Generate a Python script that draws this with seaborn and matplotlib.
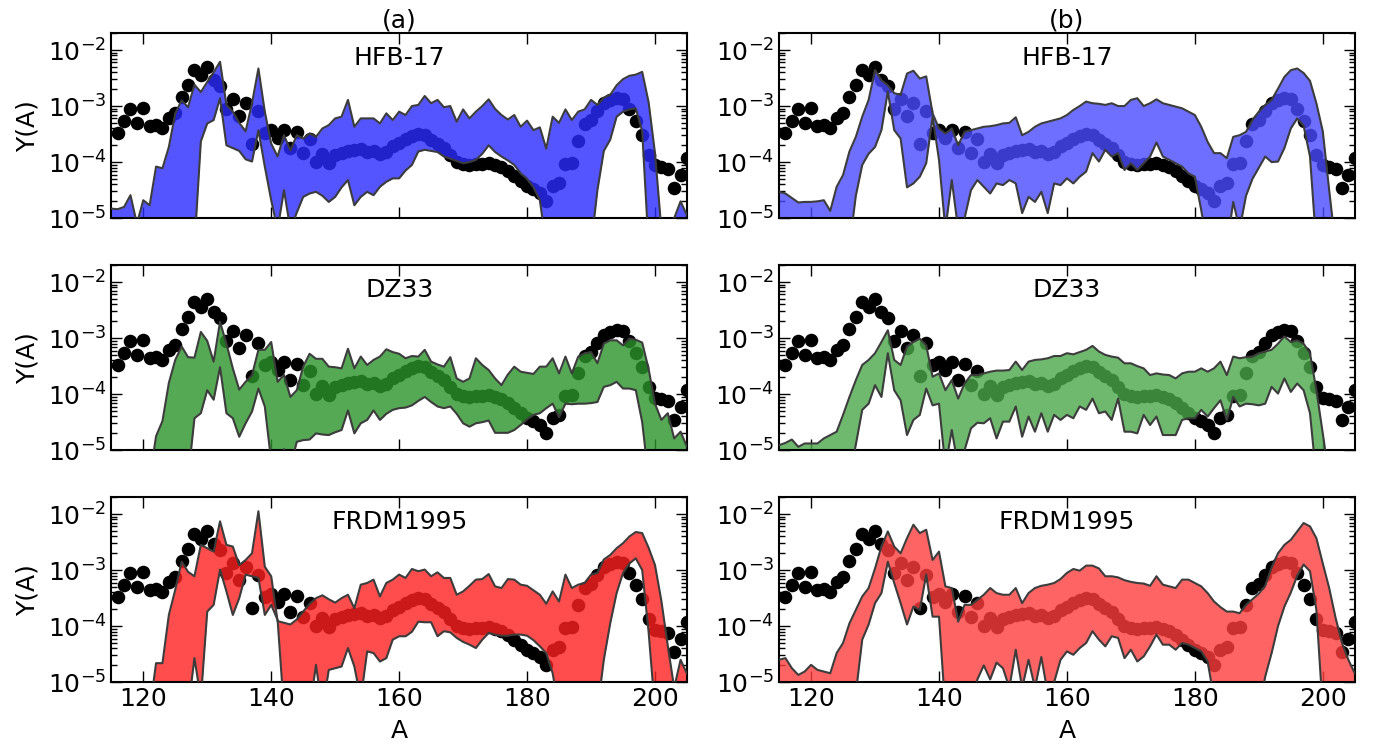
import numpy as np
import seaborn as sns
import matplotlib.pyplot as plt
from matplotlib.ticker import LogLocator, NullFormatter

# mass number grid of the bands and of the solar points
mass = list(range(115, 206))
solar_mass = list(range(116, 206))

# log10 Y(A) of the solar r-process points (black dots)
solar_log = [-3.48, -3.26, -3.05, -3.31, -3.04, -3.36, -3.33, -3.39, -3.22, -3.12,
             -2.84, -2.62, -2.35, -2.44, -2.31, -2.53, -2.64, -3.05, -2.87, -3.17,
             -2.95, -3.68, -3.08, -3.48, -3.42, -3.57, -3.42, -3.74, -3.46, -3.84,
             -3.58, -4.00, -3.86, -4.02, -3.88, -3.83, -3.80, -3.78, -3.76, -3.82,
             -3.80, -3.86, -3.82, -3.72, -3.66, -3.58, -3.53, -3.50, -3.52, -3.60,
             -3.67, -3.75, -3.88, -4.00, -4.04, -4.05, -4.04, -4.03, -4.02, -4.05,
             -4.08, -4.15, -4.25, -4.33, -4.42, -4.48, -4.55, -4.70, -4.42, -4.38,
             -4.04, -4.02, -3.62, -3.32, -3.25, -3.08, -2.95, -2.89, -2.86, -2.88,
             -3.06, -3.27, -3.52, -3.88, -4.06, -4.09, -4.12, -4.46, -4.23, -3.92]

# log10 band limits for A = 115..205 (below -5 = off the axis)
hfb_a_hi = [-4.83, -4.84, -4.80, -4.59, -5.10, -4.68, -4.77, -4.08, -4.11, -3.73,
            -3.13, -2.90, -3.02, -2.62, -2.75, -2.57, -2.40, -2.21, -2.98, -3.10,
            -3.30, -3.45, -2.95, -2.33, -3.10, -3.67, -3.90, -3.52, -3.79, -3.52,
            -3.58, -3.49, -3.55, -3.40, -3.34, -3.22, -3.19, -2.89, -3.37, -3.22,
            -3.22, -3.22, -3.31, -3.13, -3.25, -3.10, -3.16, -3.00, -2.98, -2.82,
            -2.95, -2.89, -3.02, -3.00, -3.28, -3.06, -3.22, -3.10, -3.00, -2.88,
            -3.05, -3.16, -3.24, -3.16, -3.37, -3.26, -3.43, -3.38, -3.76, -3.19,
            -3.30, -3.06, -3.25, -3.10, -3.06, -2.89, -2.98, -2.85, -2.80, -2.63,
            -2.52, -2.46, -2.44, -2.39, -2.93, -3.84, -5.20, -5.20, -5.00, -4.70, -4.95]
hfb_a_lo = [-5.5, -5.5, -5.5, -5.5, -5.5, -5.5, -5.5, -5.5, -5.5, -5.5,
            -5.5, -5.5, -5.5, -5.5, -3.63, -3.31, -3.25, -2.86, -3.70, -3.75,
            -3.80, -3.95, -3.99, -3.43, -4.08, -4.68, -5.20, -4.50, -5.20, -4.90,
            -4.62, -4.56, -4.53, -4.60, -4.71, -4.62, -4.45, -4.32, -4.77, -4.62,
            -4.53, -4.59, -4.44, -4.35, -4.29, -4.29, -4.15, -4.05, -3.81, -3.78,
            -3.80, -3.82, -3.90, -3.94, -3.98, -4.02, -4.00, -3.96, -3.85, -3.70,
            -3.82, -3.90, -3.97, -4.05, -4.20, -4.30, -4.45, -4.68, -5.5, -5.5,
            -5.5, -5.5, -5.5, -5.5, -5.5, -5.5, -4.50, -3.80, -3.60, -3.19,
            -3.10, -3.06, -3.04, -3.45, -5.5, -5.5, -5.5, -5.5, -5.5, -5.5, -5.5]
hfb_b_hi = [-4.53, -4.56, -4.64, -4.72, -4.71, -4.71, -4.70, -4.68, -4.87, -4.44,
            -4.23, -3.81, -3.55, -3.19, -2.89, -2.36, -2.54, -2.63, -2.77, -2.80,
            -2.42, -2.37, -2.51, -2.47, -3.13, -3.40, -3.49, -3.40, -3.70, -3.46,
            -3.43, -3.40, -3.37, -3.36, -3.34, -3.31, -3.30, -3.20, -3.52, -3.46,
            -3.37, -3.31, -3.28, -3.25, -3.22, -3.16, -3.07, -3.00, -2.92, -2.95,
            -2.96, -2.98, -2.95, -3.00, -3.00, -2.89, -2.86, -3.00, -2.95, -2.88,
            -2.95, -2.98, -3.01, -3.04, -3.10, -3.16, -3.37, -3.64, -3.84, -3.84,
            -3.93, -3.55, -3.52, -3.46, -3.25, -3.10, -2.98, -2.89, -2.69, -2.48,
            -2.36, -2.33, -2.41, -2.55, -2.95, -3.45, -4.50, -5.5, -5.5, -5.5, -5.5]
hfb_b_lo = [-5.5, -5.5, -5.5, -5.5, -5.5, -5.5, -5.5, -5.5, -5.5, -5.5,
            -5.5, -5.5, -4.60, -4.05, -3.85, -3.73, -3.43, -2.74, -3.43, -3.58,
            -4.45, -4.38, -4.26, -4.02, -3.19, -3.96, -5.20, -4.32, -5.20, -5.00,
            -4.50, -4.32, -4.44, -4.56, -4.38, -4.41, -4.32, -4.38, -4.91, -4.62,
            -4.71, -4.53, -4.91, -4.38, -4.41, -4.29, -4.38, -4.26, -4.17, -3.84,
            -3.99, -3.78, -3.90, -3.84, -4.14, -4.02, -4.14, -4.02, -3.90, -3.65,
            -3.90, -3.96, -4.02, -4.08, -4.20, -4.26, -4.86, -5.5, -5.5, -5.5,
            -5.5, -4.71, -5.20, -4.60, -4.30, -4.10, -3.90, -4.00, -3.99, -3.75,
            -3.40, -3.22, -3.35, -3.90, -5.5, -5.5, -5.5, -5.5, -5.5, -5.5, -5.5]

dz_a_hi = [-5.5, -5.5, -5.5, -5.5, -5.5, -5.5, -5.5, -4.75, -4.48, -3.80,
           -3.39, -3.15, -3.34, -3.35, -2.89, -3.05, -3.42, -2.71, -3.10, -3.54,
           -3.92, -3.78, -3.66, -3.21, -3.21, -3.07, -3.78, -3.66, -4.05, -3.93,
           -3.51, -3.28, -3.37, -3.37, -3.51, -3.52, -3.54, -3.19, -3.54, -3.33,
           -3.48, -3.39, -3.33, -3.20, -3.25, -3.28, -3.36, -3.32, -3.33, -3.21,
           -3.42, -3.47, -3.51, -3.34, -3.72, -3.78, -3.72, -3.36, -3.48, -3.57,
           -3.72, -3.84, -3.65, -3.51, -3.60, -3.62, -3.64, -3.51, -3.51, -3.36,
           -3.63, -3.33, -3.63, -3.33, -3.27, -3.25, -3.45, -3.10, -3.04, -3.04,
           -3.13, -3.01, -3.03, -3.08, -3.55, -4.17, -4.46, -4.34, -4.79, -4.67, -4.94]
dz_a_lo = [-5.5, -5.5, -5.5, -5.5, -5.5, -5.5, -5.5, -5.5, -5.5, -5.5,
           -5.5, -5.5, -5.5, -4.43, -4.34, -3.93, -4.10, -3.52, -4.34, -4.43,
           -4.76, -4.52, -4.31, -3.90, -4.22, -5.20, -5.50, -4.98, -5.30, -4.85,
           -4.82, -4.81, -4.70, -4.72, -4.73, -4.68, -4.64, -4.29, -4.70, -4.52,
           -4.46, -4.29, -4.46, -4.35, -4.28, -4.25, -4.24, -4.20, -4.12, -4.05,
           -4.14, -4.22, -4.25, -4.22, -4.35, -4.52, -4.58, -4.52, -4.50, -4.47,
           -4.69, -4.69, -4.69, -4.64, -4.55, -4.45, -4.37, -4.34, -4.25, -4.17,
           -4.41, -4.17, -4.18, -4.17, -4.17, -4.16, -4.14, -3.87, -3.84, -3.78,
           -3.90, -3.90, -3.93, -4.50, -5.5, -5.5, -5.5, -5.5, -5.5, -5.5, -5.5]
dz_b_hi = [-4.91, -4.87, -4.81, -4.94, -4.88, -4.88, -4.88, -4.79, -4.73, -4.67,
           -4.37, -4.05, -3.75, -3.48, -3.39, -3.27, -3.07, -2.86, -3.39, -3.48,
           -3.15, -3.07, -3.01, -3.13, -3.69, -3.63, -3.93, -3.75, -4.08, -3.81,
           -3.66, -3.66, -3.63, -3.60, -3.58, -3.58, -3.57, -3.42, -3.57, -3.42,
           -3.39, -3.38, -3.36, -3.32, -3.32, -3.27, -3.29, -3.25, -3.21, -3.14,
           -3.24, -3.30, -3.33, -3.35, -3.45, -3.45, -3.50, -3.54, -3.66, -3.63,
           -3.65, -3.66, -3.72, -3.63, -3.60, -3.60, -3.54, -3.60, -3.54, -3.42,
           -3.66, -3.33, -3.36, -3.34, -3.33, -3.27, -3.24, -3.21, -3.10, -2.97,
           -3.07, -3.04, -3.10, -3.27, -3.93, -4.70, -5.5, -5.5, -5.5, -5.5, -5.5]
dz_b_lo = [-5.5, -5.5, -5.5, -5.5, -5.5, -5.5, -5.5, -5.5, -5.5, -5.5,
           -5.5, -5.5, -4.90, -4.28, -4.17, -3.84, -4.05, -3.27, -3.93, -4.11,
           -4.73, -4.46, -4.37, -3.90, -4.20, -4.17, -5.30, -4.64, -5.30, -5.00,
           -4.61, -4.51, -4.52, -4.43, -4.79, -4.49, -4.49, -4.22, -4.76, -4.40,
           -4.67, -4.34, -4.67, -4.37, -4.46, -4.37, -4.43, -4.22, -4.28, -4.08,
           -4.34, -4.31, -4.46, -4.08, -4.67, -4.67, -4.70, -4.37, -4.55, -4.40,
           -4.73, -4.73, -4.73, -4.46, -4.43, -4.43, -4.28, -4.40, -4.25, -4.11,
           -4.46, -4.05, -4.22, -4.17, -4.18, -4.20, -4.17, -3.87, -3.99, -3.72,
           -3.96, -3.81, -3.93, -4.34, -5.5, -5.5, -5.5, -5.5, -5.5, -5.5, -5.5]

frdm_a_hi = [-5.5, -5.5, -5.5, -5.5, -5.5, -5.5, -5.5, -4.66, -4.66, -3.80,
             -3.35, -2.85, -3.03, -3.11, -2.55, -2.61, -2.67, -2.13, -2.55, -2.58,
             -2.91, -2.82, -2.70, -1.95, -2.94, -3.11, -3.91, -3.94, -3.97, -3.88,
             -3.74, -3.60, -3.50, -3.45, -3.52, -3.58, -3.50, -3.44, -3.68, -3.26,
             -3.23, -3.17, -3.47, -3.23, -3.17, -3.08, -3.14, -2.98, -3.02, -2.99,
             -3.11, -3.04, -3.14, -3.14, -3.44, -3.38, -3.28, -3.17, -3.16, -3.07,
             -3.29, -3.32, -3.16, -3.17, -3.26, -3.28, -3.36, -3.44, -3.60, -3.38,
             -3.56, -3.08, -3.32, -3.26, -3.23, -3.08, -3.05, -2.81, -2.73, -2.61,
             -2.52, -2.40, -2.32, -2.34, -2.60, -2.91, -3.55, -4.35, -5.10, -4.60, -4.85]
frdm_a_lo = [-5.5, -5.5, -5.5, -5.5, -5.5, -5.5, -5.5, -5.5, -5.5, -5.5,
             -5.5, -5.5, -5.5, -4.57, -5.30, -3.74, -3.62, -2.99, -3.38, -3.80,
             -3.50, -3.08, -3.11, -3.14, -3.80, -3.62, -3.89, -5.5, -5.5, -5.5,
             -5.5, -5.5, -4.69, -5.5, -4.78, -4.75, -4.72, -4.39, -4.72, -5.30,
             -4.45, -4.48, -4.63, -4.57, -4.24, -4.18, -4.18, -4.10, -3.92, -3.93,
             -3.93, -4.18, -4.09, -4.11, -4.21, -4.28, -4.33, -4.39, -4.24, -4.12,
             -4.15, -4.17, -4.17, -4.15, -4.15, -4.17, -4.25, -4.36, -4.48, -4.84,
             -5.5, -5.5, -5.5, -5.5, -5.5, -5.5, -5.5, -4.60, -3.95, -3.41,
             -3.05, -2.88, -2.79, -3.00, -4.10, -5.5, -5.5, -5.5, -5.5, -5.5, -5.5]
frdm_b_hi = [-4.60, -4.57, -4.75, -4.87, -4.81, -4.69, -4.78, -4.81, -4.84, -4.48,
             -4.30, -3.95, -3.71, -3.47, -3.32, -2.97, -2.58, -2.31, -2.58, -2.70,
             -2.43, -2.19, -2.34, -2.28, -2.82, -2.67, -3.29, -3.32, -3.92, -3.62,
             -3.62, -3.53, -3.44, -3.32, -3.41, -3.44, -3.44, -3.32, -3.59, -3.41,
             -3.32, -3.28, -3.26, -3.23, -3.16, -3.05, -2.98, -3.01, -2.92, -2.92,
             -2.97, -3.11, -3.11, -3.13, -3.18, -3.21, -3.23, -3.24, -3.28, -3.11,
             -3.26, -3.29, -3.32, -3.17, -3.17, -3.23, -3.29, -3.41, -3.56, -3.66,
             -3.74, -3.74, -3.77, -3.62, -3.52, -3.42, -3.28, -2.95, -2.70, -2.55,
             -2.46, -2.31, -2.16, -2.22, -2.43, -2.88, -3.32, -3.85, -4.30, -4.60, -4.84]
frdm_b_lo = [-5.5, -5.5, -5.5, -5.5, -5.5, -5.5, -5.5, -5.5, -5.5, -5.5,
             -5.5, -5.5, -5.20, -4.24, -3.97, -3.59, -3.41, -2.85, -3.23, -3.59,
             -3.97, -3.65, -3.71, -3.08, -3.83, -3.83, -5.5, -5.5, -5.5, -5.5,
             -5.5, -4.95, -4.70, -4.95, -4.65, -4.75, -5.10, -4.42, -5.10, -4.60,
             -5.10, -4.55, -5.20, -5.00, -4.60, -4.45, -4.51, -4.39, -4.30, -4.09,
             -4.24, -4.36, -4.18, -4.21, -4.57, -4.42, -4.63, -4.54, -4.36, -4.15,
             -4.33, -4.33, -4.42, -4.30, -4.33, -4.39, -4.45, -4.63, -5.30, -5.5,
             -5.5, -5.5, -5.5, -5.5, -5.5, -5.5, -4.90, -4.48, -4.00, -3.65,
             -3.40, -3.10, -2.90, -3.02, -3.71, -5.5, -5.5, -5.5, -5.5, -5.5, -5.5]

model_names = ['HFB-17', 'DZ33', 'FRDM1995']
column_titles = ['(a)', '(b)']
# band colours, column (a) and column (b)
band_colors = [[(0.17, 0.17, 1.0), (0.29, 0.29, 1.0)],
               [(0.17, 0.58, 0.17), (0.29, 0.66, 0.29)],
               [(1.0, 0.12, 0.12), (1.0, 0.24, 0.24)]]

sns.set_style('ticks')
plt.rcParams['font.family'] = ['DejaVu Sans']
plt.rcParams.update({
    'text.color': 'black', 'axes.labelcolor': 'black',
    'xtick.color': 'black', 'ytick.color': 'black',
    'axes.edgecolor': 'black', 'axes.linewidth': 1.5,
    'xtick.labelsize': 18, 'ytick.labelsize': 18,
})

fig, axes = plt.subplots(3, 2, figsize=(13.74, 7.53), dpi=100)
fig.subplots_adjust(left=0.081, right=0.986, top=0.956, bottom=0.094,
                    wspace=0.16, hspace=0.254)

bands = [[(hfb_a_lo, hfb_a_hi), (hfb_b_lo, hfb_b_hi)],
         [(dz_a_lo, dz_a_hi), (dz_b_lo, dz_b_hi)],
         [(frdm_a_lo, frdm_a_hi), (frdm_b_lo, frdm_b_hi)]]

solar = np.power(10.0, solar_log)

for row in range(3):
    for col in range(2):
        ax = axes[row, col]
        lo = np.power(10.0, bands[row][col][0])
        hi = np.power(10.0, bands[row][col][1])

        # solar points underneath, model band on top
        sns.scatterplot(x=solar_mass, y=solar, color='black', s=95,
                        linewidth=0, ax=ax, zorder=1, legend=False)
        ax.fill_between(mass, lo, hi, color=band_colors[row][col],
                        alpha=0.8, linewidth=0, zorder=2)
        sns.lineplot(x=mass, y=hi, color='#3c3c3c', lw=1.5, ax=ax, zorder=3)
        sns.lineplot(x=mass, y=lo, color='#3c3c3c', lw=1.5, ax=ax, zorder=3)

        ax.set_yscale('log')
        ax.set_xlim(115, 205)
        ax.set_ylim(1e-5, 2e-2)
        ax.set_xticks([120, 140, 160, 180, 200])
        ax.yaxis.set_major_locator(LogLocator(base=10, numticks=15))
        ax.yaxis.set_minor_locator(LogLocator(base=10, subs=np.arange(2, 10), numticks=15))
        ax.yaxis.set_minor_formatter(NullFormatter())
        ax.tick_params(which='both', direction='in', top=True, right=True)
        ax.tick_params(which='major', length=8, width=1)
        ax.tick_params(which='minor', length=4, width=1)
        for s in ax.spines.values():
            s.set_visible(True)
            s.set_linewidth(1.5)

        ax.text(0.5, 0.866, model_names[row], transform=ax.transAxes,
                ha='center', va='center', fontsize=18)

        ax.set_xlabel('')
        ax.set_ylabel('')
        if row < 2:
            ax.tick_params(labelbottom=False)
        else:
            ax.set_xlabel('A', fontsize=18, labelpad=6)
        if col == 0:
            ax.set_ylabel('Y(A)', fontsize=18, labelpad=6)
        if row == 0:
            ax.set_title(column_titles[col], fontsize=18, pad=4)

fig.savefig('out.png', dpi=100)
